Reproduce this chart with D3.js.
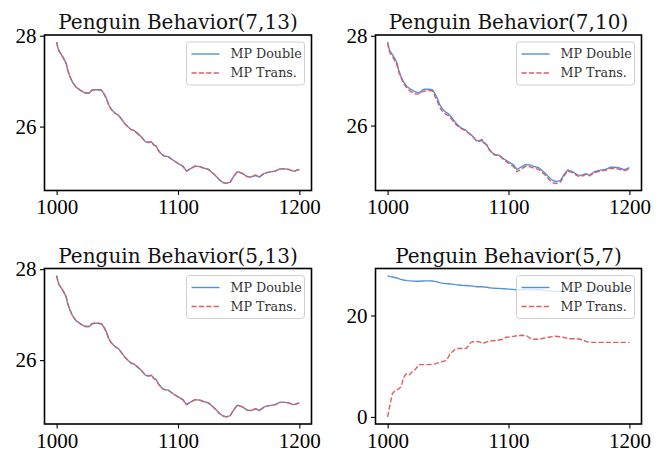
<!DOCTYPE html>
<html>
<head>
<meta charset="utf-8">
<script src="https://cdn.jsdelivr.net/npm/d3@7/dist/d3.min.js"></script>
<style>
  html, body { margin: 0; padding: 0; background: #fff; }
  svg { display: block; }
</style>
</head>
<body>
<svg id="chart" width="670" height="453"></svg>
<script>
// Training steps at which the runs were sampled
const steps = [
  1000, 1001, 1002, 1004, 1006, 1008, 1009, 1011, 1013, 1016,
  1019, 1022, 1024, 1027, 1029, 1031, 1034, 1037, 1039, 1041,
  1043, 1045, 1048, 1051, 1053, 1056, 1059, 1061, 1064, 1067,
  1070, 1073, 1076, 1078, 1080, 1082, 1084, 1087, 1089, 1092,
  1096, 1100, 1104, 1107, 1110, 1114, 1118, 1121, 1125, 1129,
  1132, 1134, 1137, 1140, 1143, 1146, 1149, 1153, 1157, 1160,
  1164, 1167, 1171, 1175, 1180, 1184, 1188, 1191, 1195, 1197, 1200
];

// MP Double run (shared by every panel)
const mpDouble = [
  27.86, 27.74, 27.66, 27.58, 27.49, 27.38, 27.25, 27.10, 26.98, 26.87,
  26.81, 26.76, 26.74, 26.74, 26.80, 26.81, 26.81, 26.80, 26.72, 26.62,
  26.47, 26.38, 26.30, 26.25, 26.18, 26.07, 25.99, 25.94, 25.91, 25.84,
  25.77, 25.67, 25.65, 25.67, 25.60, 25.57, 25.47, 25.38, 25.35, 25.34,
  25.26, 25.19, 25.13, 25.02, 25.07, 25.13, 25.12, 25.09, 25.06, 24.97,
  24.89, 24.83, 24.77, 24.75, 24.78, 24.91, 25.01, 24.97, 24.90, 24.89,
  24.93, 24.89, 24.97, 25.00, 25.02, 25.07, 25.07, 25.06, 25.02, 25.03, 25.06
];

// MP Trans. with (7,13) and (5,13) follows the double run exactly
const mpTrans713 = mpDouble;
const mpTrans513 = mpDouble;

// MP Trans. with (7,10): sits slightly below the double run
const mpTrans710 = [
  27.84, 27.70, 27.62, 27.54, 27.44, 27.33, 27.21, 27.07, 26.95, 26.83,
  26.76, 26.71, 26.70, 26.71, 26.76, 26.77, 26.78, 26.77, 26.66, 26.55,
  26.41, 26.33, 26.25, 26.21, 26.14, 26.04, 25.96, 25.93, 25.89, 25.83,
  25.77, 25.68, 25.66, 25.69, 25.62, 25.57, 25.46, 25.37, 25.34, 25.34,
  25.24, 25.16, 25.09, 24.97, 25.02, 25.09, 25.08, 25.05, 25.02, 24.93,
  24.85, 24.78, 24.72, 24.71, 24.74, 24.88, 24.99, 24.95, 24.88, 24.86,
  24.91, 24.88, 24.95, 24.98, 25.00, 25.04, 25.04, 25.03, 24.99, 25.00, 25.04
];

// MP Trans. with (5,7): climbs from zero in steps
const steps57 = [
  1000, 1001, 1002, 1003, 1004, 1006, 1009, 1011, 1012, 1013,
  1015, 1017, 1018, 1020, 1022, 1024, 1026, 1030, 1034, 1038,
  1041, 1045, 1048, 1050, 1052, 1054, 1056, 1059, 1062, 1065,
  1067, 1069, 1072, 1076, 1079, 1082, 1086, 1091, 1095, 1098,
  1102, 1107, 1111, 1115, 1118, 1121, 1126, 1129, 1133, 1139,
  1143, 1147, 1150, 1157, 1161, 1164, 1167, 1175, 1185, 1200
];
const mpTrans57 = [
  0.0, 1.2, 2.4, 3.6, 4.6, 5.1, 5.5, 5.9, 6.6, 7.6,
  8.4, 8.5, 8.3, 8.8, 9.1, 9.7, 10.3, 10.3, 10.3, 10.4,
  10.6, 10.9, 11.1, 11.7, 12.6, 12.9, 13.4, 13.5, 13.5, 13.5,
  14.1, 14.7, 14.9, 14.8, 14.5, 14.8, 15.0, 15.1, 15.3, 15.7,
  15.8, 16.0, 16.1, 16.0, 15.5, 15.3, 15.3, 15.5, 15.7, 15.9,
  15.8, 15.6, 15.4, 15.4, 15.2, 14.9, 14.7, 14.7, 14.7, 14.7
];

const panelTitles = [
  "Penguin Behavior(7,13)", "Penguin Behavior(7,10)",
  "Penguin Behavior(5,13)", "Penguin Behavior(5,7)"
];
const xTicks = [1000, 1100, 1200];
const yTicksLoss = [26, 28];
const yTicks57 = [0, 20];
const legendLabels = ["MP Double", "MP Trans."];

const COLOR_DOUBLE = "#5390d6";
const COLOR_TRANS = "#dc5f61";

const panels = [
  { title: panelTitles[0], yTicks: yTicksLoss, box: [44.5, 35, 311.5, 190.5],
    series: [{ x: steps, y: mpDouble }, { x: steps, y: mpTrans713 }] },
  { title: panelTitles[1], yTicks: yTicksLoss, box: [375.5, 35, 641.5, 190.5],
    series: [{ x: steps, y: mpDouble }, { x: steps, y: mpTrans710 }] },
  { title: panelTitles[2], yTicks: yTicksLoss, box: [44.5, 268.5, 311.5, 424],
    series: [{ x: steps, y: mpDouble }, { x: steps, y: mpTrans513 }] },
  { title: panelTitles[3], yTicks: yTicks57, box: [375.5, 268.5, 641.5, 424],
    series: [{ x: steps, y: mpDouble }, { x: steps57, y: mpTrans57 }] }
];

const svg = d3.select("#chart");
const TITLE_FONT = "'DejaVu Serif', serif";
const TICK_FONT = "'Liberation Serif', serif";

// pad an extent by 5% on each side, like matplotlib's auto margins
function padded(lo, hi) {
  const m = (hi - lo) * 0.05;
  return [lo - m, hi + m];
}

panels.forEach(p => {
  const [x0, y0, x1, y1] = p.box;
  const allX = p.series.flatMap(s => s.x);
  const allY = p.series.flatMap(s => s.y);
  const x = d3.scaleLinear().domain(padded(d3.min(allX), d3.max(allX))).range([x0, x1]);
  const y = d3.scaleLinear().domain(padded(d3.min(allY), d3.max(allY))).range([y1, y0]);

  const g = svg.append("g");

  // data lines
  const line = d3.line().x(d => x(d[0])).y(d => y(d[1]));
  const styles = [
    { stroke: COLOR_DOUBLE, dash: null },
    { stroke: COLOR_TRANS, dash: "5.2,2.2" }
  ];
  p.series.forEach((s, i) => {
    const pts = s.x.map((v, k) => [v, s.y[k]]);
    g.append("path")
      .attr("d", line(pts))
      .attr("fill", "none")
      .attr("stroke", styles[i].stroke)
      .attr("stroke-width", 1.4)
      .attr("stroke-linejoin", "round")
      .attr("stroke-dasharray", styles[i].dash);
  });

  // axes
  const ax = g.append("g").attr("transform", `translate(0,${y1})`)
    .call(d3.axisBottom(x).tickValues(xTicks).tickSize(4.5).tickSizeOuter(0).tickPadding(4).tickFormat(d3.format("d")));
  const ay = g.append("g").attr("transform", `translate(${x0},0)`)
    .call(d3.axisLeft(y).tickValues(p.yTicks).tickSize(4.5).tickSizeOuter(0).tickPadding(3.5).tickFormat(d3.format("d")));
  [ax, ay].forEach(a => {
    a.select(".domain").remove();
    a.selectAll(".tick line").attr("stroke", "#000").attr("stroke-width", 1.1);
    a.selectAll(".tick text").attr("fill", "#000")
      .style("font-family", TICK_FONT).style("font-size", "21px");
  });
  ax.selectAll(".tick text").attr("dy", "0.72em");

  // frame
  g.append("rect")
    .attr("x", x0).attr("y", y0).attr("width", x1 - x0).attr("height", y1 - y0)
    .attr("fill", "none").attr("stroke", "#000").attr("stroke-width", 1.6);

  // title
  g.append("text")
    .attr("x", (x0 + x1) / 2).attr("y", y0 - 6)
    .attr("text-anchor", "middle")
    .style("font-family", TITLE_FONT).style("font-size", "20px")
    .attr("fill", "#111")
    .text(p.title);

  // legend, upper right
  const lw = 118, lh = 43;
  const lx = x1 - 7 - lw, ly = y0 + 7;
  const lg = g.append("g");
  lg.append("rect")
    .attr("x", lx).attr("y", ly).attr("width", lw).attr("height", lh)
    .attr("rx", 3).attr("ry", 3)
    .attr("fill", "#fff").attr("fill-opacity", 0.8)
    .attr("stroke", "#d0d0d0").attr("stroke-width", 1);
  legendLabels.forEach((lab, i) => {
    const cy = ly + 12 + i * 19;
    lg.append("line")
      .attr("x1", lx + 5).attr("x2", lx + 33).attr("y1", cy).attr("y2", cy)
      .attr("stroke", styles[i].stroke).attr("stroke-width", 1.4)
      .attr("stroke-dasharray", styles[i].dash);
    lg.append("text")
      .attr("x", lx + 44).attr("y", cy).attr("dy", "0.35em")
      .style("font-family", TITLE_FONT).style("font-size", "12.7px")
      .attr("fill", "#333")
      .text(lab);
  });
});
</script>
</body>
</html>
